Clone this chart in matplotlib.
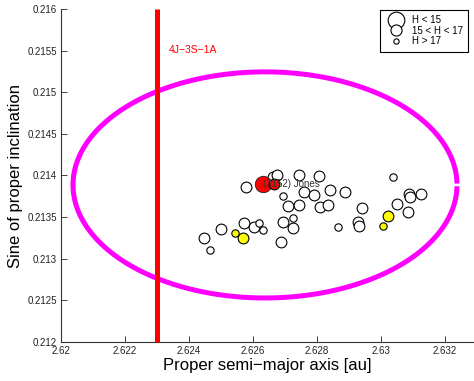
import numpy as np
import matplotlib
matplotlib.use("Agg")
import matplotlib.pyplot as plt
from matplotlib.lines import Line2D

plt.rcParams['font.family'] = ['Liberation Sans', 'DejaVu Sans']

# ---- data ----
white_med_x = [2.626625, 2.62675, 2.624484, 2.625, 2.625728, 2.626041, 2.626875, 2.626947,
               2.627259, 2.627103, 2.627447, 2.625781, 2.627422, 2.628063, 2.627594, 2.627916,
               2.628391, 2.628875, 2.628094, 2.628353, 2.629391, 2.629272, 2.629319, 2.6305,
               2.630859, 2.630875, 2.630906, 2.63125]
white_med_y = [0.213977, 0.214001, 0.213246, 0.213355, 0.21343, 0.213386, 0.213196, 0.213442,
               0.213374, 0.213629, 0.213647, 0.213859, 0.214007, 0.213998, 0.213806, 0.21377,
               0.213821, 0.213803, 0.213623, 0.213641, 0.213613, 0.213436, 0.213394, 0.213659,
               0.213563, 0.213779, 0.213746, 0.213775]
white_small_x = [2.624641, 2.626188, 2.626322, 2.627259, 2.626947, 2.628647, 2.63036]
white_small_y = [0.213103, 0.213434, 0.213346, 0.213493, 0.213755, 0.213382, 0.21398]
yellow_small_x = [2.625438, 2.630053]
yellow_small_y = [0.213304, 0.213394]
yellow_med_x = [2.625697, 2.630234]
yellow_med_y = [0.213246, 0.213514]
red_big_x = [2.62632]
red_big_y = [0.213899]
red_med_x = [2.626666]
red_med_y = [0.213899]

jones_x, jones_y = 2.62632, 0.213899
jones_label = "(3152) Jones"

resonance_a = 2.623
resonance_label = "4J\u22123S\u22121A"

ell_center = (2.626375, 0.213887)
ell_a = 0.006
ell_b = 0.001358

xticks = [2.62, 2.622, 2.624, 2.626, 2.628, 2.63, 2.632]
xtick_labels = ['2.62', '2.622', '2.624', '2.626', '2.628', '2.63', '2.632']
yticks = [0.212, 0.2125, 0.213, 0.2135, 0.214, 0.2145, 0.215, 0.2155, 0.216]
ytick_labels = ['0.212', '0.2125', '0.213', '0.2135', '0.214', '0.2145', '0.215', '0.2155', '0.216']

legend_labels = ['H < 15', '15 < H < 17', 'H > 17']

# ---- figure ----
W, H = 474, 381
fig = plt.figure(figsize=(W / 100, H / 100), dpi=100)
ax = fig.add_axes([61 / W, (H - 342) / H, (W - 61) / W, 333 / H])

# ellipse
th = np.linspace(0.012, 2 * np.pi - 0.012, 600)
ax.plot(ell_center[0] + ell_a * np.cos(th), ell_center[1] + ell_b * np.sin(th),
        color='#FF00FF', lw=3.6, solid_capstyle='butt', zorder=2)

# resonance line
ax.plot([resonance_a, resonance_a], [0.212, 0.216], color='#FF0000', lw=3.6,
        solid_capstyle='butt', zorder=3, clip_on=False)
ax.text(2.623375, 0.21551, resonance_label, color='#FF0000', fontsize=7.5,
        ha='left', va='center', zorder=6)

s_big, s_med, s_small = 140, 60, 28
ekw = dict(edgecolors='black', linewidths=0.8, zorder=4)
ax.scatter(white_med_x, white_med_y, s=s_med, facecolors='white', **ekw)
ax.scatter(white_small_x, white_small_y, s=s_small, facecolors='white', **ekw)
ax.scatter(yellow_med_x, yellow_med_y, s=s_med, facecolors='#FFFF00', **ekw)
ax.scatter(yellow_small_x, yellow_small_y, s=s_small, facecolors='#FFFF00', **ekw)
ax.scatter(red_big_x, red_big_y, s=s_big, facecolors='#FF0000', edgecolors='#222222',
           linewidths=0.6, zorder=5)
ax.scatter(red_med_x, red_med_y, s=s_med, facecolors='#FF0000', **{**ekw, 'zorder': 5})
ax.text(jones_x, jones_y, jones_label, color='#333333', fontsize=7, ha='left',
        va='center', zorder=6)

ax.set_xlim(2.62, 2.62 + (W - 61) * 3.125e-5)
ax.set_ylim(0.212, 0.216)
ax.set_xticks(xticks)
ax.set_xticklabels(xtick_labels)
ax.set_yticks(yticks)
ax.set_yticklabels(ytick_labels)
ax.tick_params(direction='in', length=4, width=0.6, labelsize=7, colors='#222222', pad=3)
for sp in ['top', 'right']:
    ax.spines[sp].set_visible(False)
for sp in ['left', 'bottom']:
    ax.spines[sp].set_linewidth(0.8)
    ax.spines[sp].set_color('#333333')

ax.set_xlabel("Proper semi\u2212major axis [au]", fontsize=12, labelpad=1)
ax.set_ylabel("Sine of proper inclination", fontsize=12, labelpad=3)

handles = [
    Line2D([], [], ls='none', marker='o', markersize=12, mfc='white', mec='black', mew=0.8),
    Line2D([], [], ls='none', marker='o', markersize=8, mfc='white', mec='black', mew=0.8),
    Line2D([], [], ls='none', marker='o', markersize=3.8, mfc='white', mec='black', mew=0.8),
]
leg = ax.legend(handles, legend_labels, loc='upper right',
                bbox_to_anchor=((468 - 61) / (W - 61), (342 - 10) / 333),
                fontsize=7, frameon=True, fancybox=False, framealpha=1,
                edgecolor='black', labelspacing=0.05, handletextpad=0.5,
                borderpad=0.55, handlelength=2.2, borderaxespad=0)
leg.get_frame().set_linewidth(0.8)

fig.savefig("out.png", dpi=100)
